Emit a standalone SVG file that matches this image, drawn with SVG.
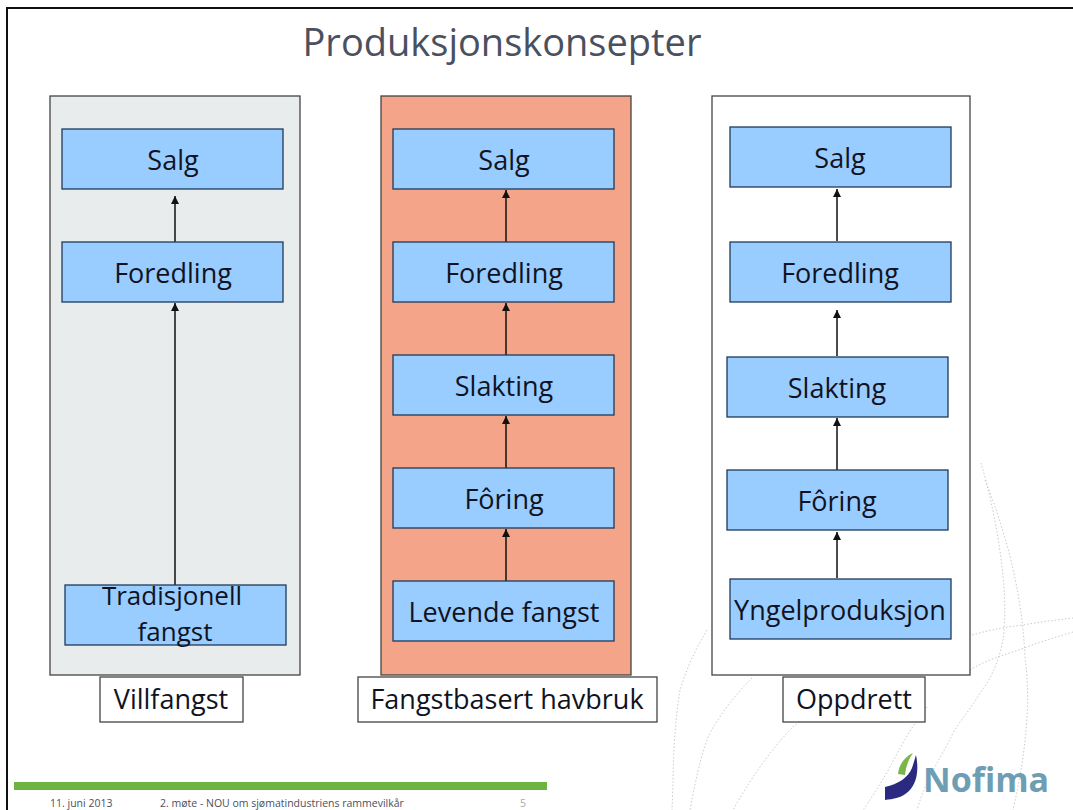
<svg xmlns="http://www.w3.org/2000/svg" width="1073" height="810" viewBox="0 0 1073 810">
<style>
.t{font-family:"Open Sans","Noto Sans","DejaVu Sans",sans-serif;fill:#10131f;font-size:27px;text-anchor:middle}
.b{fill:#99ccff;stroke:#1f3a5a;stroke-width:1.3}
.p{stroke:#444;stroke-width:1.3}
.l{fill:#fff;stroke:#444;stroke-width:1.3}
.c{stroke:#111;stroke-width:1.5;fill:none;marker-end:url(#a)}
.d{fill:none;stroke:#c4cdca;stroke-width:1;stroke-dasharray:1.5 2}
</style>
<defs><marker id="a" markerUnits="userSpaceOnUse" markerWidth="9" markerHeight="9" refX="8" refY="4" orient="auto"><path d="M0 0L8 4L0 8Z" fill="#111"/></marker></defs>
<rect width="1073" height="810" fill="#fff"/>
<path d="M7 810V8H1073" fill="none" stroke="#111" stroke-width="2"/>
<g id="background">
<path class="d" d="M981 463C995 510 1010 590 1003 640C998 665 990 680 980 693C970 710 962 718 953 733C945 750 935 765 927 783C923 792 920 800 917 810"/>
<path class="d" d="M985 480C1005 530 1022 590 1025 657C1028 680 1028 700 1027 717C1025 750 1020 780 1013 810"/>
<path class="d" d="M972 635C990 630 1005 627 1023 625C1040 622 1055 620 1073 618"/>
<path class="d" d="M970 670C985 660 1005 655 1027 647C1045 640 1060 636 1073 632"/>
<path class="d" d="M707 630C695 650 686 670 680 690C675 720 673 760 673 783L672 810"/>
<path class="d" d="M752 678C735 695 722 712 710 733C700 755 695 785 690 810"/>
<path class="d" d="M860 680C835 695 812 712 793 727C770 750 750 780 733 810"/>
<path class="d" d="M927 707C912 725 900 748 890 767C880 785 870 800 863 810"/>
</g>
<text class="t" x="502" y="56" style="font-size:38px;fill:#4a5060" id="title">Produksjonskonsepter</text>
<rect x="50" y="96" width="250" height="579" fill="#e8ecec" class="p"/>
<rect x="381" y="96" width="250" height="579" fill="#f4a488" class="p"/>
<rect x="712" y="96" width="258" height="579" fill="#fff" class="p"/>
<g id="connectors">
<path class="c" d="M175 242V196"/>
<path class="c" d="M175 585V303"/>
<path class="c" d="M506 242V190"/>
<path class="c" d="M506 355V303"/>
<path class="c" d="M506 468V416"/>
<path class="c" d="M506 581V529"/>
<path class="c" d="M837 241V189"/>
<path class="c" d="M837 356V310"/>
<path class="c" d="M837 470V418"/>
<path class="c" d="M837 578V532"/>
</g>
<g id="n1"><rect class="b" x="62" y="129" width="221" height="60"/><text class="t" x="173" y="170">Salg</text></g>
<g id="n2"><rect class="b" x="62" y="242" width="221" height="60"/><text class="t" x="173" y="283">Foredling</text></g>
<g id="n3"><rect class="b" x="65" y="585" width="221" height="60"/><text class="t" style="font-size:26px"><tspan x="172" y="605">Tradisjonell</tspan><tspan x="175" y="641">fangst</tspan></text></g>
<g id="n4"><rect class="b" x="393" y="129" width="221" height="60"/><text class="t" x="504" y="170">Salg</text></g>
<g id="n5"><rect class="b" x="393" y="242" width="221" height="60"/><text class="t" x="504" y="283">Foredling</text></g>
<g id="n6"><rect class="b" x="393" y="355" width="221" height="60"/><text class="t" x="504" y="396">Slakting</text></g>
<g id="n7"><rect class="b" x="393" y="468" width="221" height="60"/><text class="t" x="504" y="509">Fôring</text></g>
<g id="n8"><rect class="b" x="393" y="581" width="221" height="60"/><text class="t" x="504" y="622">Levende fangst</text></g>
<g id="n9"><rect class="b" x="730" y="127" width="221" height="60"/><text class="t" x="840" y="168">Salg</text></g>
<g id="n10"><rect class="b" x="730" y="242" width="221" height="60"/><text class="t" x="840" y="283">Foredling</text></g>
<g id="n11"><rect class="b" x="727" y="357" width="221" height="60"/><text class="t" x="837" y="398">Slakting</text></g>
<g id="n12"><rect class="b" x="727" y="470" width="221" height="60"/><text class="t" x="837" y="511">Fôring</text></g>
<g id="n13"><rect class="b" x="730" y="579" width="221" height="60"/><text class="t" x="840" y="620">Yngelproduksjon</text></g>
<g id="l1"><rect class="l" x="100" y="677" width="143" height="45"/><text class="t" x="171" y="709">Villfangst</text></g>
<g id="l2"><rect class="l" x="358" y="677" width="299" height="45"/><text class="t" x="507" y="709">Fangstbasert havbruk</text></g>
<g id="l3"><rect class="l" x="783" y="677" width="142" height="45"/><text class="t" x="854" y="709">Oppdrett</text></g>
<rect x="14" y="782" width="533" height="8" fill="#6db33f"/>
<g style="font-family:'Open Sans','Noto Sans',sans-serif;font-size:10.500px;fill:#4a5060">
<text x="50" y="807">11. juni 2013</text><text x="160" y="807">2. møte - NOU om sjømatindustriens rammevilkår</text><text x="520" y="807" fill="#aaa">5</text></g>
<g id="logo">
<path d="M885 800V787C898 784 908 778 912 768C914 762 915 758 916 755C919 770 917 783 909 791C902 798 893 799 885 800Z" fill="#2b2a80"/>
<path d="M898 774C899 765 904 757 913 753C908 760 906 767 905 775Z" fill="#7ab648"/>
<text x="923" y="792" style="font-family:'Open Sans',sans-serif;font-weight:700;font-size:34px;fill:#6f9db4">Nofima</text>
</g>
</svg>
